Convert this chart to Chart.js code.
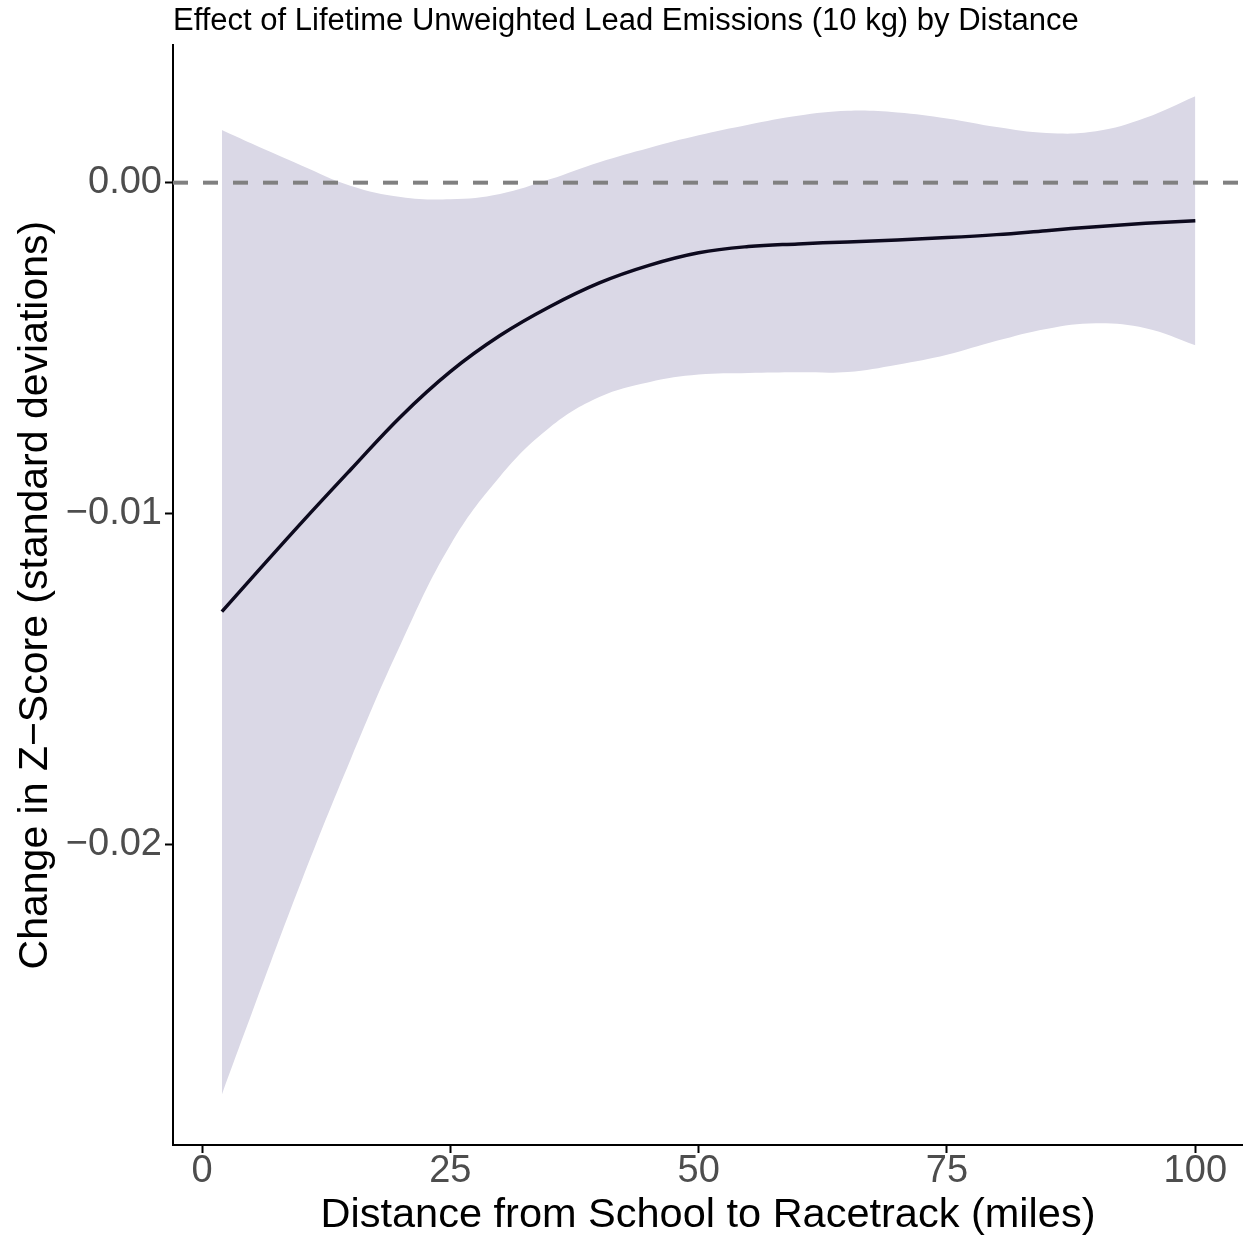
<!DOCTYPE html>
<html>
<head>
<meta charset="utf-8">
<script src="https://cdn.jsdelivr.net/npm/chart.js@4.4.1/dist/chart.umd.min.js"></script>
<style>
  body { margin: 0; background: #fff; }
  #wrap { width: 1243px; height: 1237px; }
</style>
</head>
<body>
<div id="wrap"><canvas id="chart" width="1243" height="1237"></canvas></div>
<script>
// distance (miles) and smoothed effect with its confidence band
const distance = [2, 5, 10, 15, 20, 25, 30, 35, 40, 45, 50, 55, 60, 65, 70, 75, 80, 85, 90, 95, 100];
const effect = [-0.01296, -0.01195, -0.01028, -0.00866, -0.00707, -0.00571, -0.00462, -0.00375, -0.00303,
  -0.0025, -0.00212, -0.00193, -0.00185, -0.00179, -0.00173, -0.00166, -0.00157, -0.00145, -0.00133, -0.00123, -0.00115];
const upper = [0.00159, 0.00118, 0.00052, -0.0001, -0.00043, -0.0005, -0.00034, 0.0001, 0.00062, 0.00105,
  0.00143, 0.00175, 0.00202, 0.00217, 0.00212, 0.00194, 0.00168, 0.0015, 0.00155, 0.00196, 0.00261];
const lower = [-0.02756, -0.02511, -0.02112, -0.0174, -0.01395, -0.01095, -0.00888, -0.0074, -0.00648, -0.00603,
  -0.0058, -0.00575, -0.00573, -0.00572, -0.0055, -0.0052, -0.00478, -0.00442, -0.00425, -0.0044, -0.00491];

const xTicks = [0, 25, 50, 75, 100];
const yTicks = [-0.02, -0.01, 0];
const xRange = [-2.92, 104.8];
const yRange = [-0.02908, 0.004154];

const toPts = (ys) => distance.map((d, i) => ({ x: d, y: ys[i] }));
const fmtY = (v) => (v < 0 ? "\u2212" : "") + Math.abs(v).toFixed(2);

const band = "#dad8e6";
const font = "'Liberation Sans', Arial, Helvetica, sans-serif";

new Chart(document.getElementById("chart"), {
  type: "line",
  data: {
    datasets: [
      {
        label: "effect",
        data: toPts(effect),
        borderColor: "#0d0a1e",
        borderWidth: 3.5,
        pointRadius: 0,
        fill: false,
        tension: 0.4,
        order: 0,
      },
      {
        label: "zero",
        data: [{ x: xRange[0], y: 0 }, { x: xRange[1], y: 0 }],
        borderColor: "#808080",
        borderWidth: 4,
        borderDash: [15, 15],
        pointRadius: 0,
        fill: false,
        order: 1,
      },
      {
        label: "upper",
        data: toPts(upper),
        borderWidth: 0,
        pointRadius: 0,
        backgroundColor: band,
        fill: "+1",
        tension: 0.4,
        order: 2,
      },
      {
        label: "lower",
        data: toPts(lower),
        borderWidth: 0,
        pointRadius: 0,
        backgroundColor: band,
        fill: false,
        tension: 0.4,
        order: 3,
      },
    ],
  },
  options: {
    responsive: false,
    animation: false,
    layout: { padding: 0 },
    plugins: {
      legend: { display: false },
      tooltip: { enabled: false },
      title: {
        display: true,
        text: "Effect of Lifetime Unweighted Lead Emissions (10 kg) by Distance",
        align: "start",
        fullSize: false,
        color: "#000",
        font: { family: font, size: 31, weight: "normal", lineHeight: 1.2 },
        padding: { top: 3, bottom: 5 },
      },
    },
    scales: {
      x: {
        type: "linear",
        min: xRange[0],
        max: xRange[1],
        afterBuildTicks: (s) => { s.ticks = xTicks.map((v) => ({ value: v })); },
        afterFit: (s) => { s.height = 92; },
        border: { display: true, color: "#000", width: 2 },
        grid: { drawOnChartArea: false, drawTicks: true, tickLength: 8, color: "#000", tickWidth: 2 },
        ticks: { color: "#4d4d4d", font: { family: font, size: 38 }, padding: -4, maxRotation: 0 },
        title: {
          display: true,
          text: "Distance from School to Racetrack (miles)",
          color: "#000",
          font: { family: font, size: 41.5 },
          padding: { top: 0, bottom: -3 },
        },
      },
      y: {
        type: "linear",
        min: yRange[0],
        max: yRange[1],
        afterBuildTicks: (s) => { s.ticks = yTicks.map((v) => ({ value: v })); },
        afterFit: (s) => { s.width = 173; },
        border: { display: true, color: "#000", width: 2 },
        grid: { drawOnChartArea: false, drawTicks: true, tickLength: 8, color: "#000", tickWidth: 2 },
        ticks: { color: "#4d4d4d", font: { family: font, size: 38 }, padding: 3, callback: (v) => fmtY(v) },
        title: {
          display: true,
          text: "Change in Z\u2212Score (standard deviations)",
          color: "#000",
          font: { family: font, size: 41 },
          padding: { top: 11, bottom: 0 },
        },
      },
    },
  },
});
</script>
</body>
</html>
